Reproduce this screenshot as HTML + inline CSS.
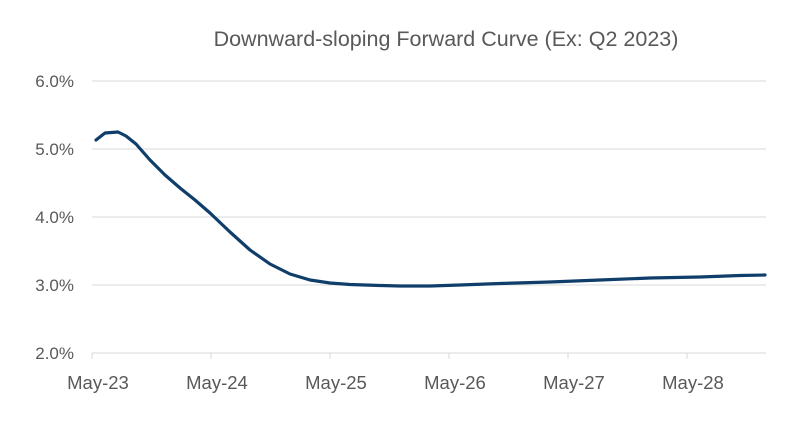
<!DOCTYPE html>
<html><head><meta charset="utf-8"><style>
body{margin:0;background:#fff;}
svg{display:block;font-family:"Liberation Sans",sans-serif;}
</style></head><body>
<svg width="800" height="429" viewBox="0 0 800 429">
<text x="446" y="46" text-anchor="middle" font-size="21.5" fill="#595959">Downward-sloping Forward Curve (Ex: Q2 2023)</text>
<g stroke="#d9d9d9" stroke-width="1">
<line x1="92" y1="81" x2="766" y2="81"/>
<line x1="92" y1="149" x2="766" y2="149"/>
<line x1="92" y1="217" x2="766" y2="217"/>
<line x1="92" y1="285" x2="766" y2="285"/>
<line x1="92" y1="353" x2="766" y2="353"/>
<line x1="92" y1="353" x2="92" y2="359"/>
<line x1="211" y1="353" x2="211" y2="359"/>
<line x1="330" y1="353" x2="330" y2="359"/>
<line x1="449" y1="353" x2="449" y2="359"/>
<line x1="568" y1="353" x2="568" y2="359"/>
<line x1="687" y1="353" x2="687" y2="359"/>
</g>
<g font-size="17" fill="#595959" text-anchor="end">
<text x="74" y="87">6.0%</text>
<text x="74" y="155">5.0%</text>
<text x="74" y="223">4.0%</text>
<text x="74" y="291">3.0%</text>
<text x="74" y="359">2.0%</text>
</g>
<g font-size="18.5" fill="#595959" text-anchor="middle">
<text x="98" y="389">May-23</text>
<text x="217" y="389">May-24</text>
<text x="336" y="389">May-25</text>
<text x="455" y="389">May-26</text>
<text x="574" y="389">May-27</text>
<text x="693" y="389">May-28</text>
</g>
<path d="M96,140 L105,133 L118,132 L126,136 L136,144 L150,160 L165,175 L180,188 L195,200 L210,213 L230,232 L250,250 L270,264 L290,274 L310,280 L330,283 L350,284.5 L380,285.5 L400,286 L430,286 L460,285 L500,283.5 L550,282 L600,280 L650,278 L700,277 L740,275.5 L765,275" fill="none" stroke="#0f3e6b" stroke-width="3.2" stroke-linejoin="round" stroke-linecap="round"/>
</svg>
</body></html>
